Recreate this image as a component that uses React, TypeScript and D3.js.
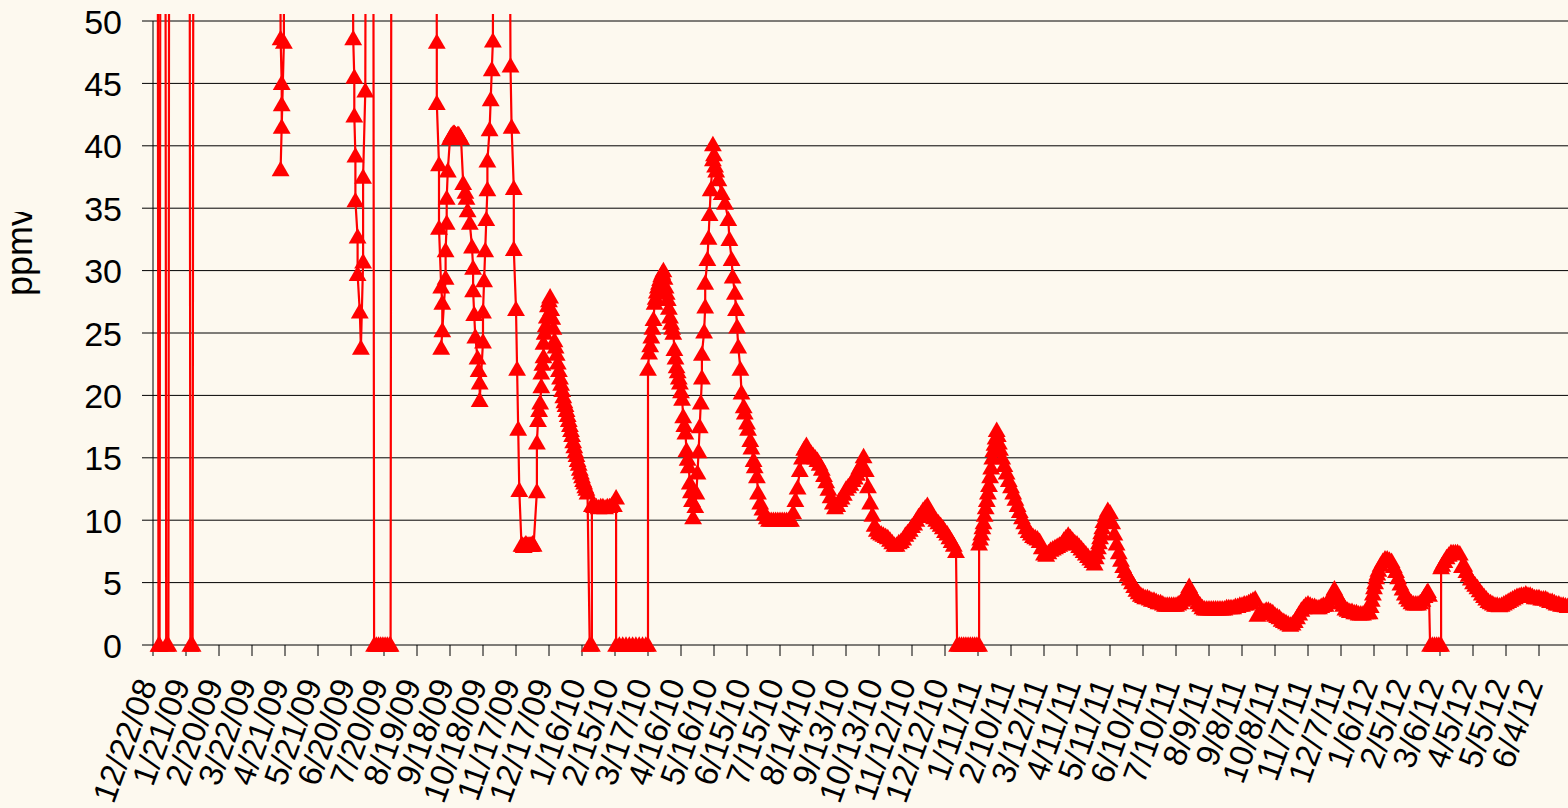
import * as d3 from 'd3';
import React from 'react';

const width = 1568;
const height = 808;
const bg = '#fdf9ef';
const red = '#ff0000';

// date labels, one every 30 days starting 12/22/08
const dateLabels = [
  '12/22/08', '1/21/09', '2/20/09', '3/22/09', '4/21/09', '5/21/09', '6/20/09', '7/20/09',
  '8/19/09', '9/18/09', '10/18/09', '11/17/09', '12/17/09', '1/16/10', '2/15/10', '3/17/10',
  '4/16/10', '5/16/10', '6/15/10', '7/15/10', '8/14/10', '9/13/10', '10/13/10', '11/12/10',
  '12/12/10', '1/11/11', '2/10/11', '3/12/11', '4/11/11', '5/11/11', '6/10/11', '7/10/11',
  '8/9/11', '9/8/11', '10/8/11', '11/7/11', '12/7/11', '1/6/12', '2/5/12', '3/6/12',
  '4/5/12', '5/5/12', '6/4/12',
];
const ppmvTicks = [0, 5, 10, 15, 20, 25, 30, 35, 40, 45, 50];

// [days after 12/22/08, ppmv]  (values above 50 run off the chart)
const spikes2009: [number, number][] = [
  [4, 90], [5, 0], [6, 0], [7, 90], [11, 90], [12, 0], [14, 0], [15, 90],
  [33, 90], [34, 0], [36, 0], [37, 90],
];
const spring2009: [number, number][] = [
  [115, 90], [116, 48.6], [117, 45.0], [117, 43.3], [117, 41.5], [116, 38.1], [119, 48.3], [119, 90],
];
const summer2009: [number, number][] = [
  [181, 90], [182, 48.6], [183, 45.5], [183, 42.4], [184, 39.2], [184, 35.6], [186, 32.7], [186, 29.7],
  [188, 26.7], [189, 23.8], [191, 30.7], [191, 37.5], [193, 44.4], [194, 90],
  [200, 90], [201, 0], [203, 0], [205, 0], [207, 0], [209, 0], [211, 0], [213, 0], [215, 0], [216, 0], [217, 90],
];
const autumn2009: [number, number][] = [
  [257, 90], [258, 48.3], [258, 43.4], [260, 38.5], [260, 33.4], [262, 28.7], [263, 27.4], [263, 25.2],
  [262, 23.8], [266, 29.4], [266, 31.6], [267, 33.8], [267, 35.8], [268, 38.0], [270, 40.6], [271, 40.8],
  [272, 40.9], [273, 41.0], [274, 41.0], [275, 40.9], [276, 40.8], [277, 40.9], [278, 40.9], [279, 40.7],
  [280, 40.6], [282, 37.0], [284, 36.3], [285, 35.8], [286, 34.8], [288, 33.8], [290, 31.9], [291, 30.2],
  [291, 28.4], [292, 26.5], [293, 24.7], [295, 23.0], [296, 22.0], [297, 21.0], [297, 19.6], [300, 24.3],
  [300, 26.7], [301, 29.2], [302, 31.6], [303, 34.1], [304, 36.5], [304, 38.8], [306, 41.3], [307, 43.7],
  [308, 46.1], [309, 48.4], [310, 90],
];
const winter2009: [number, number][] = [
  [323, 90], [325, 46.4], [326, 41.5], [328, 36.6], [328, 31.7], [330, 26.9], [331, 22.1], [332, 17.3],
  [333, 12.4], [335, 8.0], [336, 8.0], [337, 7.9], [338, 8.0], [339, 8.1], [340, 8.0], [341, 8.0],
  [342, 8.0], [343, 8.0], [344, 8.0], [345, 8.1], [346, 8.0], [349, 12.3], [349, 16.2], [350, 18.0],
  [351, 18.8], [352, 19.4], [353, 20.7], [353, 21.8], [354, 22.5], [355, 23.1], [355, 24.2], [356, 25.0],
  [357, 25.6], [358, 26.3], [359, 27.2], [360, 27.6], [361, 27.9], [362, 26.9], [363, 26.2], [364, 25.4],
  [365, 24.4], [366, 23.9], [367, 23.3], [368, 22.6], [369, 22.0], [370, 21.4], [371, 20.9], [372, 20.4],
  [373, 19.9], [374, 19.5], [375, 19.2], [376, 18.8], [377, 18.4], [378, 18.0], [379, 17.6], [380, 17.2],
  [381, 16.8], [382, 16.3], [383, 15.9], [384, 15.5], [385, 15.2], [386, 14.8], [387, 14.5], [388, 14.1],
  [389, 13.8], [390, 13.5], [391, 13.2], [392, 13.0], [393, 12.7], [394, 12.5], [395, 12.2], [397, 0],
  [399, 0], [399, 11.2], [401, 11.1], [403, 11.1], [405, 11.0], [407, 11.1], [409, 11.1], [411, 11.0],
  [413, 11.1], [415, 11.1], [417, 11.2], [419, 11.2], [421, 11.8], [421, 0], [424, 0], [427, 0],
  [430, 0], [433, 0], [436, 0], [439, 0], [442, 0], [445, 0], [448, 0], [450, 0],
];
const spring2010: [number, number][] = [
  [450, 22.1], [451, 23.4], [452, 24.0], [453, 24.7], [454, 25.4], [455, 26.1], [456, 27.4], [457, 27.8],
  [458, 28.3], [459, 28.7], [460, 29.0], [461, 29.3], [462, 29.6], [463, 29.8], [464, 30.0], [465, 29.4],
  [466, 28.7], [467, 28.2], [468, 27.7], [469, 27.0], [470, 26.3], [471, 25.8], [472, 25.4], [473, 25.0],
  [474, 23.7], [475, 23.0], [476, 22.3], [477, 21.9], [478, 21.4], [479, 21.0], [480, 20.3], [481, 19.7],
  [482, 18.3], [483, 17.6], [484, 17.0], [485, 15.6], [486, 14.9], [487, 14.3], [488, 13.0], [489, 12.3],
  [490, 11.6], [491, 10.2], [493, 11.1], [494, 12.2], [495, 13.8], [496, 15.5], [497, 17.5], [498, 19.4],
  [499, 21.4], [499, 23.3], [501, 25.1], [502, 27.1], [502, 29.0], [504, 30.9], [505, 32.6], [506, 34.5],
  [507, 36.5], [509, 38.9], [509, 40.1], [510, 39.3], [511, 38.4], [512, 38.0], [514, 37.3], [517, 36.2],
  [520, 35.4], [523, 34.1], [524, 32.5], [526, 30.9], [527, 29.5], [529, 28.2], [530, 26.9], [531, 25.5],
  [532, 23.9], [534, 22.1], [535, 20.2], [537, 19.1], [538, 18.6], [540, 17.8], [541, 17.3], [543, 16.4],
  [544, 15.8], [546, 14.8], [547, 14.3], [549, 13.5], [550, 12.2],
];
const summer2010: [number, number][] = [
  [552, 11.4], [554, 10.9], [556, 10.5], [558, 10.2], [560, 10.0], [562, 10.0], [564, 10.0], [566, 10.0],
  [568, 10.0], [570, 10.0], [572, 10.0], [574, 10.0], [576, 10.0], [578, 10.0], [580, 10.0], [582, 10.6],
  [584, 11.6], [586, 12.6], [588, 14.0], [590, 15.0], [592, 15.7], [594, 16.0], [596, 15.6], [598, 15.4],
  [600, 15.2], [602, 15.0], [604, 14.8], [606, 14.5], [608, 14.1], [610, 13.6], [612, 13.1], [614, 12.5],
  [616, 11.9], [618, 11.4], [620, 11.0], [622, 11.2], [624, 11.6], [626, 11.8], [628, 12.1], [630, 12.5],
  [632, 12.7], [634, 12.9], [636, 13.2], [638, 13.4], [640, 13.7], [642, 14.2], [644, 14.5], [646, 15.1],
  [648, 14.0], [650, 12.7], [652, 11.4], [654, 10.4], [656, 9.6], [658, 9.2], [660, 9.0], [662, 8.9],
  [664, 8.8], [666, 8.7], [668, 8.6], [670, 8.4], [672, 8.2], [674, 8.0], [676, 8.0], [678, 8.2],
  [680, 8.3], [682, 8.5], [684, 8.8], [686, 9.0], [688, 9.2], [690, 9.5], [692, 9.7], [694, 10.0],
  [696, 10.3], [698, 10.5], [700, 10.8], [702, 11.0], [704, 11.2], [706, 10.8], [708, 10.4], [710, 10.2],
  [712, 10.0], [714, 9.8], [716, 9.6], [718, 9.4], [720, 9.1], [722, 8.9], [724, 8.6], [726, 8.3],
  [728, 8.0], [730, 7.5],
];
const winter2011: [number, number][] = [
  [731, 0], [733, 0], [735, 0], [737, 0], [739, 0], [741, 0], [743, 0], [745, 0], [747, 0], [749, 0],
  [751, 0], [751, 8.1], [752, 8.5], [753, 8.9], [754, 9.4], [755, 9.8], [756, 10.4], [757, 11.0],
  [758, 11.6], [759, 12.2], [760, 12.8], [761, 13.5], [762, 14.2], [763, 15.0], [764, 15.6], [765, 16.1],
  [766, 16.6], [767, 17.2], [768, 16.8], [769, 16.2], [770, 15.7], [772, 15.0], [774, 14.4], [776, 13.8],
  [778, 13.2], [780, 12.7], [782, 12.2], [784, 11.7], [786, 11.2], [788, 10.7], [790, 10.2], [792, 9.8],
  [794, 9.4], [796, 9.1], [798, 8.9], [800, 8.7], [802, 8.6], [804, 8.5], [806, 8.3], [808, 7.8],
  [810, 7.3], [812, 7.2], [814, 7.4], [816, 7.6], [818, 7.7], [820, 7.8], [822, 7.9], [824, 8.0],
  [826, 8.1], [828, 8.4], [830, 8.6], [832, 8.8], [834, 8.6], [836, 8.4], [838, 8.2], [840, 8.1],
  [842, 7.9], [844, 7.7], [846, 7.5], [848, 7.3], [850, 7.1], [852, 6.9], [854, 6.7], [856, 6.5],
  [857, 7.0], [858, 7.4], [859, 7.8], [860, 8.2], [861, 8.6], [862, 9.0], [863, 9.4], [864, 9.9],
  [866, 10.4], [868, 10.8], [870, 10.6],
];
const autumn2011: [number, number][] = [
  [872, 9.8], [874, 8.9], [876, 8.1], [878, 7.4], [880, 6.8], [882, 6.3], [884, 5.9], [886, 5.6],
  [888, 5.3], [890, 5.0], [892, 4.7], [894, 4.4], [896, 4.2], [898, 4.0], [900, 3.9], [902, 3.8],
  [904, 3.8], [906, 3.7], [908, 3.6], [910, 3.6], [912, 3.5], [914, 3.4], [916, 3.4], [918, 3.3],
  [920, 3.2], [922, 3.2], [924, 3.2], [926, 3.2], [928, 3.2], [930, 3.2], [932, 3.3], [934, 3.4],
  [936, 3.6], [938, 3.9], [940, 4.3], [942, 4.7], [944, 4.3], [946, 3.9], [948, 3.7], [950, 3.4],
  [952, 3.2], [954, 3.0], [956, 2.9], [958, 2.9], [960, 2.9], [962, 2.9], [964, 2.9], [966, 2.9],
  [968, 2.9], [970, 2.9], [972, 2.9], [974, 2.9], [976, 3.0], [978, 3.0], [980, 3.0], [982, 3.0],
  [984, 3.1], [986, 3.1], [988, 3.2], [990, 3.2], [992, 3.3], [994, 3.3], [996, 3.4], [998, 3.5],
  [1000, 3.6], [1002, 3.7], [1004, 2.4], [1006, 2.5], [1008, 2.6], [1010, 2.7], [1012, 2.8], [1014, 2.8],
  [1016, 2.7], [1018, 2.6], [1020, 2.4], [1022, 2.3], [1024, 2.2], [1026, 2.0], [1028, 1.9], [1030, 1.8],
  [1032, 1.7], [1034, 1.6], [1036, 1.7], [1038, 1.9], [1040, 2.2], [1042, 2.5], [1044, 2.8], [1046, 3.0],
  [1048, 3.2], [1050, 3.3], [1052, 3.2], [1054, 3.1], [1056, 3.1], [1058, 3.0], [1060, 3.0], [1062, 3.1],
  [1064, 3.2], [1066, 3.2], [1068, 3.4], [1070, 3.7], [1072, 4.1], [1074, 4.5], [1076, 4.1], [1078, 3.8],
  [1080, 3.4], [1082, 3.2], [1084, 2.9], [1086, 2.8], [1088, 2.7], [1090, 2.7], [1092, 2.6], [1094, 2.6],
  [1096, 2.5], [1098, 2.5],
];
const spring2012: [number, number][] = [
  [1100, 2.5], [1102, 2.6], [1104, 2.6], [1106, 2.6], [1107, 3.1], [1108, 3.6], [1109, 4.1], [1110, 4.6],
  [1111, 5.0], [1112, 5.4], [1113, 5.7], [1114, 6.0], [1116, 6.4], [1118, 6.7], [1120, 6.9], [1122, 6.9],
  [1124, 6.8], [1126, 6.7], [1128, 6.3], [1130, 5.9], [1132, 5.4], [1134, 4.9], [1136, 4.5], [1138, 4.1],
  [1140, 3.8], [1142, 3.6], [1144, 3.4], [1146, 3.3], [1148, 3.3], [1150, 3.3], [1152, 3.4], [1154, 3.6],
  [1156, 3.9], [1158, 4.2], [1159, 4.3], [1160, 4.0], [1161, 0], [1163, 0], [1165, 0], [1167, 0],
  [1169, 0], [1171, 0], [1171, 6.2], [1172, 6.4], [1174, 6.7], [1176, 7.0], [1178, 7.2], [1180, 7.4],
  [1182, 7.4], [1184, 7.4], [1186, 7.4], [1188, 7.3], [1190, 6.3], [1192, 6.4], [1194, 5.9], [1196, 5.6],
  [1198, 5.3], [1200, 5.0], [1202, 4.8], [1204, 4.6], [1206, 4.35], [1208, 4.1], [1210, 3.9], [1212, 3.7],
  [1214, 3.5], [1216, 3.4], [1218, 3.3], [1220, 3.2], [1222, 3.2], [1224, 3.15], [1226, 3.2], [1228, 3.3],
  [1230, 3.4], [1232, 3.5], [1234, 3.6], [1236, 3.7], [1238, 3.8], [1240, 3.9], [1242, 3.95], [1244, 4.0],
  [1246, 4.0], [1248, 4.1], [1250, 4.0], [1252, 4.0], [1254, 3.9], [1256, 3.8], [1258, 3.8], [1260, 3.8],
  [1262, 3.7], [1264, 3.7], [1266, 3.7], [1268, 3.6], [1270, 3.5], [1272, 3.5], [1274, 3.4], [1276, 3.3],
  [1278, 3.3], [1280, 3.2], [1282, 3.2], [1284, 3.15], [1286, 3.1], [1288, 3.1], [1290, 3.1],
];

const readings = [
  ...spikes2009, ...spring2009, ...summer2009, ...autumn2009, ...winter2009,
  ...spring2010, ...summer2010, ...winter2011, ...autumn2011, ...spring2012,
];

const font = "'Liberation Sans', Arial, sans-serif";

export default function App() {
  const x = d3.scaleLinear().domain([0, 1260]).range([153, 1539]);
  const y = d3.scaleLinear().domain([0, 50]).range([645, 21]);
  const xTick = d3.scalePoint<string>().domain(dateLabels).range([153, 1539]);

  const line = d3
    .line<[number, number]>()
    .x(d => x(d[0]))
    .y(d => y(d[1]));
  const tri = d3.symbol(d3.symbolTriangle, 138)();

  return (
    <svg width={width} height={height} style={{ position: 'absolute', left: 0, top: 0 }}>
      <defs>
        <clipPath id="plotClip">
          <rect x={0} y={14} width={width} height={height - 14} />
        </clipPath>
        <clipPath id="titleClip">
          <rect x={0} y={212} width={100} height={200} />
        </clipPath>
      </defs>
      <rect x={0} y={0} width={width} height={height} fill={bg} />

      {/* grid + y ticks */}
      {ppmvTicks.map(v => (
        <g key={v}>
          <line x1={142} x2={width} y1={y(v)} y2={y(v)} stroke="#000" strokeWidth={1} />
          <text x={122} y={y(v) + 12.5} textAnchor="end" fontFamily={font} fontSize={34} fill="#000">
            {v}
          </text>
        </g>
      ))}
      <line x1={153} x2={153} y1={y(50)} y2={y(0)} stroke="#000" strokeWidth={1} />

      {/* x ticks + rotated labels */}
      {dateLabels.map(lab => (
        <g key={lab}>
          <line x1={xTick(lab)} x2={xTick(lab)} y1={645} y2={656} stroke="#000" strokeWidth={1} />
          <text
            transform={`translate(${(xTick(lab) as number) + 4.5},684) rotate(-70)`}
            textAnchor="end"
            fontFamily={font}
            fontSize={33}
            fill="#000"
          >
            {lab}
          </text>
        </g>
      ))}

      <g clipPath="url(#titleClip)">
        <text
          transform="translate(32,252) rotate(-90)"
          textAnchor="middle"
          fontFamily={font}
          fontSize={36}
          fill="#000"
        >
          ppmv
        </text>
      </g>

      <g clipPath="url(#plotClip)">
        <path d={line(readings) || ''} fill="none" stroke={red} strokeWidth={2.2} />
        {readings.map((d, i) => (
          <path key={i} d={tri || ''} transform={`translate(${x(d[0])},${y(d[1]) + 1.5})`} fill={red} />
        ))}
      </g>
    </svg>
  );
}
